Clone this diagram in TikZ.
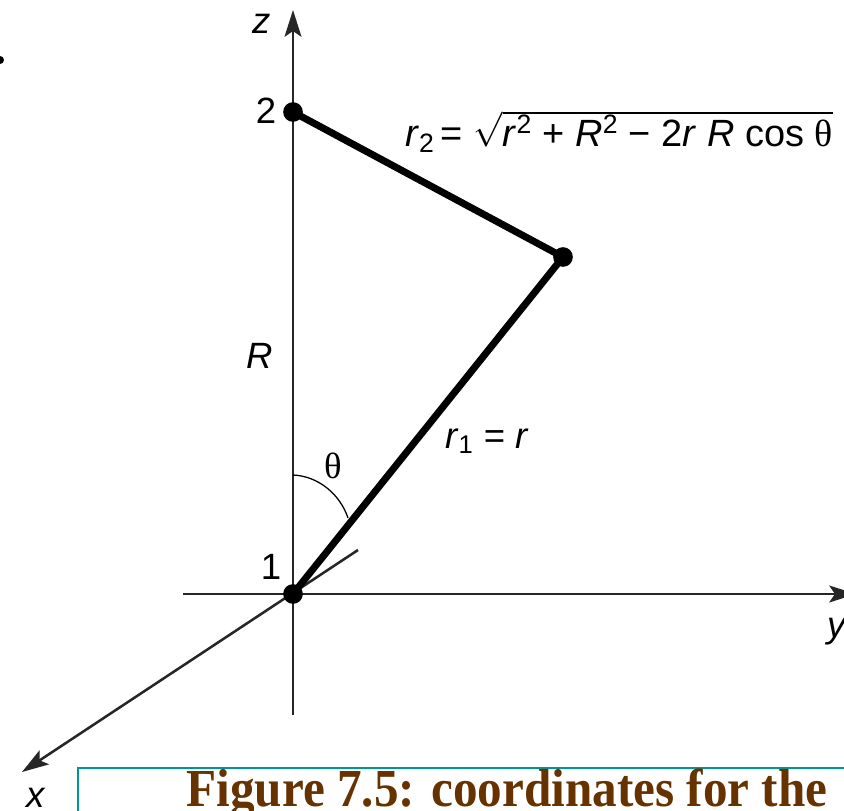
\documentclass[tikz,border=0pt]{standalone}
\usepackage{fontspec}
\setmainfont{Liberation Sans}
\newfontfamily\serifface{Liberation Serif}
\newfontfamily\captionface[FakeStretch=0.92]{Liberation Serif}
\usetikzlibrary{arrows.meta}
\definecolor{CaptionBrown}{RGB}{102,51,0}
\definecolor{CaptionTeal}{RGB}{0,150,150}

\begin{document}
\begin{tikzpicture}[x=0.025cm, y=-0.025cm,
  every node/.style={font=\fontsize{26}{30}\selectfont, inner sep=0pt},
  axis/.style={line width=1.8pt, black!85},
  axistip/.style={-{Stealth[length=19pt, width=12pt, inset=4pt]}},
  bar/.style={line width=5pt, line cap=round},
  dot/.style={circle, fill=black, minimum size=14pt}]
  \clip (0,0) rectangle (844,811);
  \coordinate (zlow) at (293,715);
  \coordinate (ztop) at (293,10);
  \coordinate (yleft) at (183,594);
  \coordinate (yright) at (856,594);
  \coordinate (xback) at (358,550);
  \coordinate (xfront) at (22,772);
  \coordinate (arcstart) at (293,475);
  \coordinate (arcend) at (348,518);
  \draw[axis, axistip] (zlow) -- (ztop);
  \draw[axis, axistip] (yleft) -- (yright);
  \draw[axis, axistip] (xback) -- (xfront);
  \node[dot] (two) at (293,112) {};
  \node[dot] (one) at (293,594) {};
  \node[dot] (corner) at (563,257) {};
  \draw[bar] (one.center) -- (corner.center);
  \draw[bar] (two.center) -- (corner.center);
  \draw[line width=0.9pt] (arcstart) .. controls (318,476) and (340,494) .. (arcend);
  \node (zlabel) at (262,24) {\textit{z}};
  \node (twolabel) at (266,111) {2};
  \node (Rlabel) at (260,356) {\textit{R}};
  \node (thetalabel) at (333,466) {\serifface θ};
  \node (rone) at (487,441) {\textit{r}\textsubscript{1} = \textit{r}};
  \node (onelabel) at (271,567) {1};
  \node (ylabel) at (838,632) {\textit{y}};
  \node (xlabel) at (36,798) {\textit{x}};
  \node[font=\fontsize{27}{30}\selectfont] (rtwo) at (619,132) {\textit{r}\textsubscript{2}\,= $\sqrt{\mbox{\textit{r}\textsuperscript{2} + \textit{R}\textsuperscript{2} − 2\textit{r} \textit{R} cos {\serifface θ}}}$};
  \draw[CaptionTeal, line width=2pt] (78,768) rectangle (900,900);
  \node[font=\captionface\bfseries\fontsize{38}{42}\selectfont, text=CaptionBrown, anchor=base] (caption) at (507,806) {Figure 7.5: coordinates for the};
  \fill (0,60) circle (4);
\end{tikzpicture}
\end{document}
